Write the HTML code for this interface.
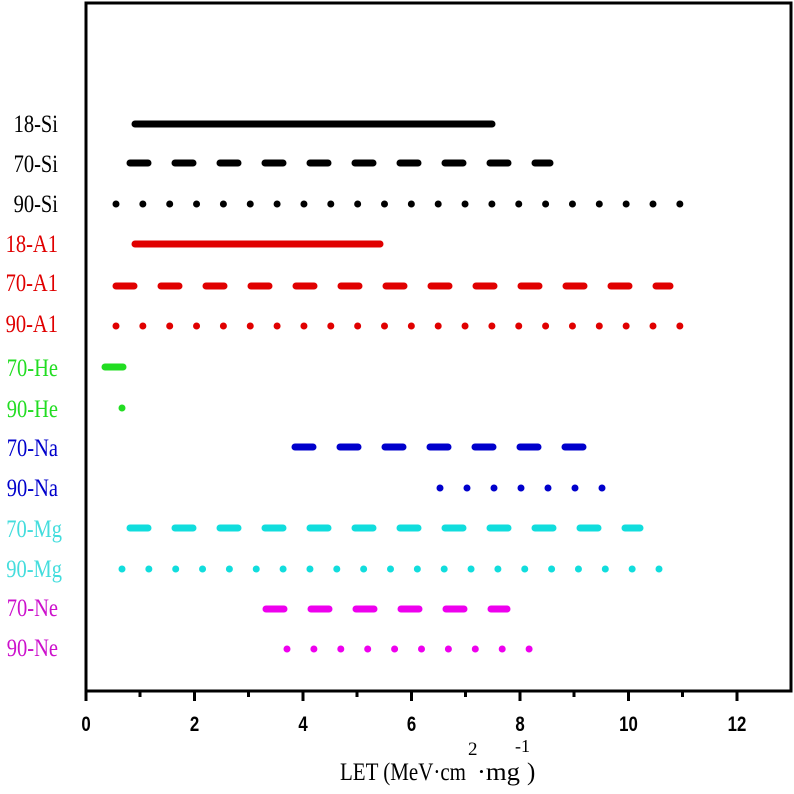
<!DOCTYPE html>
<html><head><meta charset="utf-8"><style>
html,body{margin:0;padding:0;background:#fff;}
svg{display:block;}
</style></head><body>
<svg width="794" height="794" viewBox="0 0 794 794" xmlns="http://www.w3.org/2000/svg">
<rect x="86" y="3" width="705" height="688" fill="none" stroke="#000" stroke-width="3"/>
<g stroke="#000" stroke-width="3">
<line x1="86" y1="691" x2="86" y2="701"/><line x1="140" y1="691" x2="140" y2="697"/>
<line x1="194.5" y1="691" x2="194.5" y2="701"/><line x1="248.5" y1="691" x2="248.5" y2="697"/>
<line x1="303" y1="691" x2="303" y2="701"/><line x1="357" y1="691" x2="357" y2="697"/>
<line x1="411.5" y1="691" x2="411.5" y2="701"/><line x1="465.5" y1="691" x2="465.5" y2="697"/>
<line x1="520" y1="691" x2="520" y2="701"/><line x1="574" y1="691" x2="574" y2="697"/>
<line x1="628.5" y1="691" x2="628.5" y2="701"/><line x1="682.5" y1="691" x2="682.5" y2="697"/>
<line x1="737" y1="691" x2="737" y2="701"/>
</g>
<g font-family="Liberation Sans, sans-serif" font-weight="bold" font-size="21" text-anchor="middle" fill="#000">
<text x="86" y="731" transform="translate(86,0) scale(0.8,1) translate(-86,0)">0</text>
<text x="194.5" y="731" transform="translate(194.5,0) scale(0.8,1) translate(-194.5,0)">2</text>
<text x="303" y="731" transform="translate(303,0) scale(0.8,1) translate(-303,0)">4</text>
<text x="411.5" y="731" transform="translate(411.5,0) scale(0.8,1) translate(-411.5,0)">6</text>
<text x="520" y="731" transform="translate(520,0) scale(0.8,1) translate(-520,0)">8</text>
<text x="628.5" y="731" transform="translate(628.5,0) scale(0.8,1) translate(-628.5,0)">10</text>
<text x="737" y="731" transform="translate(737,0) scale(0.8,1) translate(-737,0)">12</text>
</g>
<g font-family="Liberation Serif, serif" font-size="25" fill="#000">
<text x="340" y="780" textLength="126" lengthAdjust="spacingAndGlyphs">LET (MeV·cm</text>
<text x="468" y="755" font-size="19">2</text>
<text x="477" y="780" textLength="43" lengthAdjust="spacingAndGlyphs">·mg</text>
<text x="515" y="752" font-size="18">-1</text>
<text x="527" y="780">)</text>
</g>
<g font-family="Liberation Serif, serif" font-size="25" text-anchor="end">
<g transform="translate(58,0) scale(0.82,1)">
<text x="0" y="132" fill="#000">18-Si</text>
<text x="0" y="172" fill="#000">70-Si</text>
<text x="0" y="212" fill="#000">90-Si</text>
<text x="0" y="252" fill="#e00000">18-A1</text>
<text x="0" y="291" fill="#e00000">70-A1</text>
<text x="0" y="332" fill="#e00000">90-A1</text>
<text x="0" y="376" fill="#22dd22">70-He</text>
<text x="0" y="417" fill="#22dd22">90-He</text>
<text x="0" y="456" fill="#0000cc">70-Na</text>
<text x="0" y="496" fill="#0000cc">90-Na</text>
<text x="0" y="616" fill="#cc11cc">70-Ne</text>
<text x="0" y="656" fill="#cc11cc">90-Ne</text>
</g>
<g transform="translate(62,0) scale(0.82,1)">
<text x="0" y="537" fill="#44dddd">70-Mg</text>
<text x="0" y="577" fill="#44dddd">90-Mg</text>
</g>
</g>
<g stroke-width="7" stroke-linecap="round" fill="none">
<line x1="135" y1="124" x2="492" y2="124" stroke="#000"/>
<line x1="130" y1="163" x2="550" y2="163" stroke="#000" stroke-dasharray="18 27"/>
<line x1="116" y1="204" x2="680" y2="204" stroke="#000" stroke-dasharray="0 26.85"/>
<line x1="135" y1="244" x2="380" y2="244" stroke="#e00000"/>
<line x1="116" y1="286" x2="670" y2="286" stroke="#e00000" stroke-dasharray="18 27"/>
<line x1="116" y1="326" x2="680" y2="326" stroke="#e00000" stroke-dasharray="0 26.85"/>
<line x1="105" y1="367" x2="123" y2="367" stroke="#22dd22"/>
<line x1="122" y1="408" x2="122" y2="408" stroke="#22dd22"/>
<line x1="295" y1="447" x2="583" y2="447" stroke="#0000cc" stroke-dasharray="18 27"/>
<line x1="440" y1="488" x2="603" y2="488" stroke="#0000cc" stroke-dasharray="0 27"/>
<line x1="130" y1="528" x2="640" y2="528" stroke="#11dddd" stroke-dasharray="18 27"/>
<line x1="122" y1="569" x2="662" y2="569" stroke="#11dddd" stroke-dasharray="0 26.85"/>
<line x1="266" y1="609" x2="507" y2="609" stroke="#ee00ee" stroke-dasharray="18 27"/>
<line x1="287" y1="649" x2="533" y2="649" stroke="#ee00ee" stroke-dasharray="0 26.9"/>
</g>
</svg>
</body></html>
